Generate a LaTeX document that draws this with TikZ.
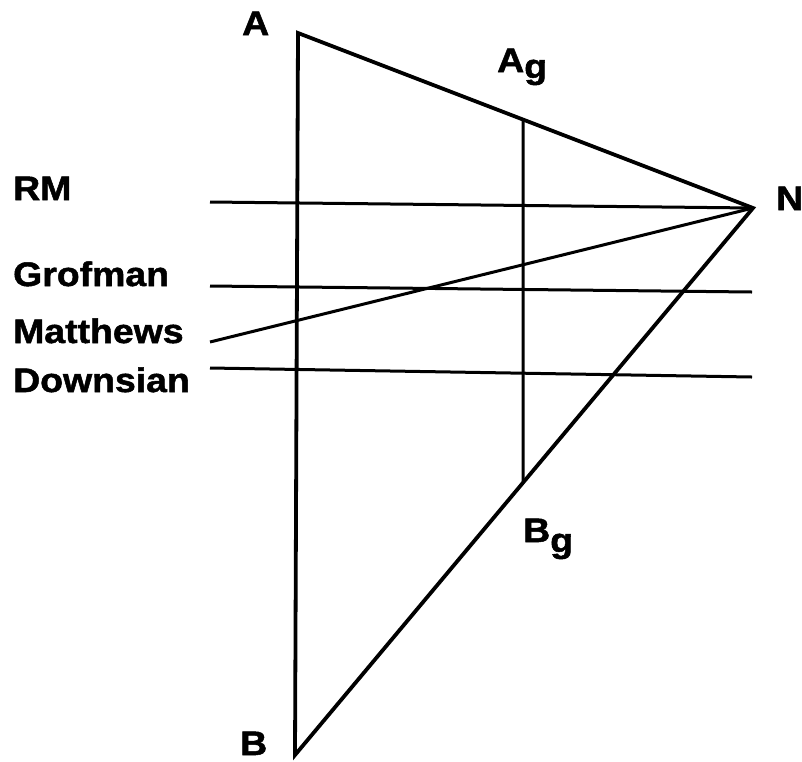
\documentclass[tikz,border=0pt]{standalone}
\usepackage{fontspec}
\setmainfont{Liberation Sans}[FakeStretch=1.1,BoldFeatures={FakeBold=1.5}]
\usetikzlibrary{calc}
\begin{document}
\begin{tikzpicture}[x=1pt,y=-1pt,
  lbl/.style={anchor=base west,inner sep=0pt,font=\bfseries\fontsize{34}{40}\selectfont},
  ln/.style={line width=3pt,line cap=butt},
  tri/.style={line width=3.8pt,line join=miter}]
\useasboundingbox (0,0) rectangle (802,761);
\coordinate (A) at (298,33);
\coordinate (N) at (753,208);
\coordinate (B) at (295,755);
\coordinate (Ag) at ($(A)!0.4945!(N)$);
\coordinate (Bg) at ($(N)!0.502!(B)$);
\coordinate (rm) at (210,202);
\coordinate (gl) at (210,286);
\coordinate (gr) at (752,292);
\coordinate (mt) at (210,342);
\coordinate (dl) at (210,368);
\coordinate (dr) at (752,377);
\draw[tri] (A) -- (N) -- (B) -- cycle;
\draw[ln] (Ag) -- (Bg);
\draw[ln] (rm) -- (N);
\draw[ln] (gl) -- (gr);
\draw[ln] (mt) -- (N);
\draw[ln] (dl) -- (dr);
\node[lbl] (lA) at (242,35) {A};
\node[lbl] (lN) at (776,210) {N};
\node[lbl] (lB) at (240,755) {B};
\node[lbl] (lAg) at (497,72) {A\raisebox{-6pt}{g}};
\node[lbl] (lBg) at (523,542) {B\raisebox{-10pt}{g}};
\node[lbl] (lRM) at (13,200) {RM};
\node[lbl] (lG) at (13,286) {Grofman};
\node[lbl] (lM) at (13,343) {Matthews};
\node[lbl] (lD) at (13,392) {Downsian};
\end{tikzpicture}
\end{document}
